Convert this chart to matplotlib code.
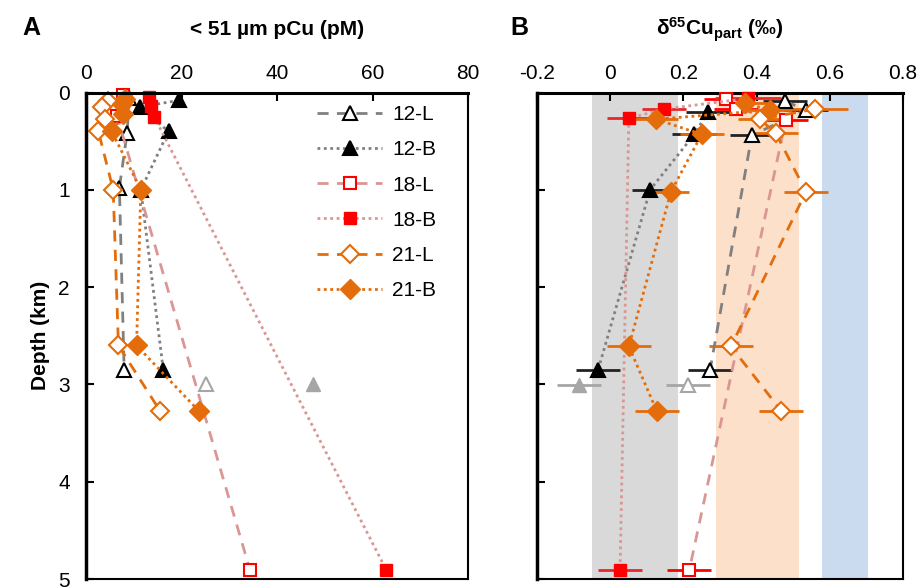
import numpy as np
import matplotlib
matplotlib.use("Agg")
import matplotlib.pyplot as plt

plt.rcParams['font.family'] = ['Liberation Sans', 'DejaVu Sans']
plt.rcParams['mathtext.fontset'] = 'custom'
plt.rcParams['mathtext.rm'] = 'Liberation Sans'
plt.rcParams['mathtext.bf'] = 'Liberation Sans:bold'

# ---- panel A : < 51 um pCu (pM) ----
a12L_x = [9.0, 8.5, 6.9, 7.9]
a12L_z = [0.06, 0.42, 0.98, 2.85]
a12B_x = [19.4, 11.2, 17.2, 11.4, 16.1]
a12B_z = [0.08, 0.15, 0.40, 1.00, 2.85]
a18L_x = [7.7, 6.4, 34.3]
a18L_z = [0.03, 0.24, 4.91]
a18B_x = [13.2, 13.5, 14.2, 62.9]
a18B_z = [0.05, 0.14, 0.25, 4.91]
a21L_x = [4.6, 3.2, 3.9, 2.5, 5.6, 6.7, 15.4]
a21L_z = [0.09, 0.15, 0.27, 0.40, 1.00, 2.60, 3.27]
a21B_x = [8.0, 7.4, 7.7, 5.3, 11.4, 10.5, 23.5]
a21B_z = [0.07, 0.12, 0.22, 0.40, 1.00, 2.60, 3.27]
a12L_out = (25.1, 3.0)
a12B_out = (47.6, 3.0)

# ---- panel B : d65Cu part (permil) ----
b12L_x = [0.478, 0.535, 0.387, 0.273]
b12L_z = [0.09, 0.18, 0.44, 2.85]
b12L_e = [0.06, 0.06, 0.06, 0.06]
b12B_x = [0.267, 0.23, 0.109, -0.033]
b12B_z = [0.20, 0.43, 1.00, 2.85]
b12B_e = [0.06, 0.06, 0.05, 0.06]
b18L_x = [0.316, 0.344, 0.48, 0.216]
b18L_z = [0.07, 0.17, 0.28, 4.91]
b18L_e = [0.06, 0.06, 0.06, 0.06]
b18B_x = [0.377, 0.147, 0.051, 0.027]
b18B_z = [0.06, 0.17, 0.265, 4.91]
b18B_e = [0.09, 0.06, 0.06, 0.06]
b21L_x = [0.56, 0.409, 0.453, 0.535, 0.33, 0.467]
b21L_z = [0.17, 0.275, 0.42, 1.02, 2.61, 3.27]
b21L_e = [0.09, 0.06, 0.06, 0.06, 0.06, 0.06]
b21B_x = [0.368, 0.437, 0.125, 0.25, 0.166, 0.051, 0.127]
b21B_z = [0.11, 0.18, 0.275, 0.43, 1.02, 2.61, 3.27]
b21B_e = [0.06, 0.06, 0.06, 0.06, 0.05, 0.06, 0.06]
b12L_out = (0.213, 3.01, 0.06)
b12B_out = (-0.085, 3.01, 0.06)

bands = [(-0.05, 0.185, '#D9D9D9'), (0.288, 0.515, '#FCE0CA'), (0.58, 0.705, '#CADBF0')]

gray = '#808080'
pink = '#DA9694'
orange = '#E46C0A'
dash = (0, (4, 3))
dot = (0, (1, 1.3))

styles = {
    '12-L': dict(color=gray, ls=dash, marker='^', mfc='white', mec='black', ms=10, mew=1.5),
    '12-B': dict(color=gray, ls=dot, marker='^', mfc='black', mec='black', ms=10, mew=1.5),
    '18-L': dict(color=pink, ls=dash, marker='s', mfc='white', mec='#FF0000', ms=9, mew=1.5),
    '18-B': dict(color=pink, ls=dot, marker='s', mfc='#FF0000', mec='#FF0000', ms=8, mew=1.0),
    '21-L': dict(color=orange, ls=dash, marker='D', mfc='white', mec=orange, ms=9, mew=1.5),
    '21-B': dict(color=orange, ls=dot, marker='D', mfc=orange, mec=orange, ms=10, mew=1.0),
}
ecol = {'12-L': '#222222', '12-B': '#222222', '18-L': '#FF0000', '18-B': '#E8262B',
        '21-L': orange, '21-B': orange}

fig = plt.figure(figsize=(9.23, 5.87), dpi=100)
axA = fig.add_axes([0.0937, 0.0136, 0.4133, 0.8288])
axB = fig.add_axes([0.5818, 0.0136, 0.3965, 0.8288])

seriesA = [('12-L', a12L_x, a12L_z), ('12-B', a12B_x, a12B_z), ('18-L', a18L_x, a18L_z),
           ('18-B', a18B_x, a18B_z), ('21-L', a21L_x, a21L_z), ('21-B', a21B_x, a21B_z)]
for name, x, z in seriesA:
    axA.plot(x, z, lw=2, label=name, clip_on=False, **styles[name])
axA.plot(*a12L_out, marker='^', ls='none', mfc='white', mec='#A6A6A6', ms=10, mew=1.5)
axA.plot(*a12B_out, marker='^', ls='none', mfc='#A6A6A6', mec='#A6A6A6', ms=10)

seriesB = [('12-L', b12L_x, b12L_z, b12L_e), ('12-B', b12B_x, b12B_z, b12B_e),
           ('18-L', b18L_x, b18L_z, b18L_e), ('18-B', b18B_x, b18B_z, b18B_e),
           ('21-L', b21L_x, b21L_z, b21L_e), ('21-B', b21B_x, b21B_z, b21B_e)]
for lo, hi, c in bands:
    axB.axvspan(lo, hi, color=c, lw=0, zorder=0)
for name, x, z, e in seriesB:
    axB.errorbar(x, z, xerr=e, fmt='none', ecolor=ecol[name], elinewidth=2, capsize=0, zorder=2)
    axB.plot(x, z, lw=2, clip_on=False, zorder=3, **styles[name])
axB.errorbar(b12L_out[0], b12L_out[1], xerr=b12L_out[2], fmt='^', ecolor='#A6A6A6',
             mfc='white', mec='#A6A6A6', ms=10, mew=1.5, elinewidth=2, capsize=0)
axB.errorbar(b12B_out[0], b12B_out[1], xerr=b12B_out[2], fmt='^', ecolor='#A6A6A6',
             mfc='#A6A6A6', mec='#A6A6A6', ms=10, elinewidth=2, capsize=0)

for ax in (axA, axB):
    ax.set_ylim(5, 0)
    ax.xaxis.tick_top()
    ax.tick_params(axis='both', direction='in', length=6, width=1.5, labelsize=15)
    ax.tick_params(axis='x', pad=7)
    ax.set_yticks([0, 1, 2, 3, 4, 5])
    for s in ax.spines.values():
        s.set_linewidth(1.5)
    ax.spines['left'].set_linewidth(2.5)
    ax.spines['top'].set_linewidth(2.2)

axA.set_xlim(0, 80)
axA.set_xticks([0, 20, 40, 60, 80])
axA.tick_params(axis='y', pad=12)
axA.set_ylabel('Depth (km)', fontsize=15, fontweight='bold', labelpad=6)
axA.legend(loc='upper right', bbox_to_anchor=(0.95, 1.0), frameon=False, fontsize=15,
           handlelength=3.1, labelspacing=0.78, borderaxespad=0.2, handletextpad=0.5)

axB.set_xlim(-0.2, 0.8)
bt = [-0.2, 0, 0.2, 0.4, 0.6, 0.8]
axB.set_xticks(bt)
axB.set_xticklabels(['-0.2', '0', '0.2', '0.4', '0.6', '0.8'])
axB.set_yticklabels([])

fig.text(0.024, 0.94, 'A', fontsize=18, fontweight='bold')
fig.text(0.30, 0.94, '< 51 µm pCu (pM)', fontsize=15, fontweight='bold', ha='center')
fig.text(0.553, 0.94, 'B', fontsize=18, fontweight='bold')
fig.text(0.78, 0.94, r'$\mathbf{\delta^{65}Cu_{part}}$ (‰)', fontsize=15, fontweight='bold', ha='center')

fig.savefig('out.png', dpi=100)
